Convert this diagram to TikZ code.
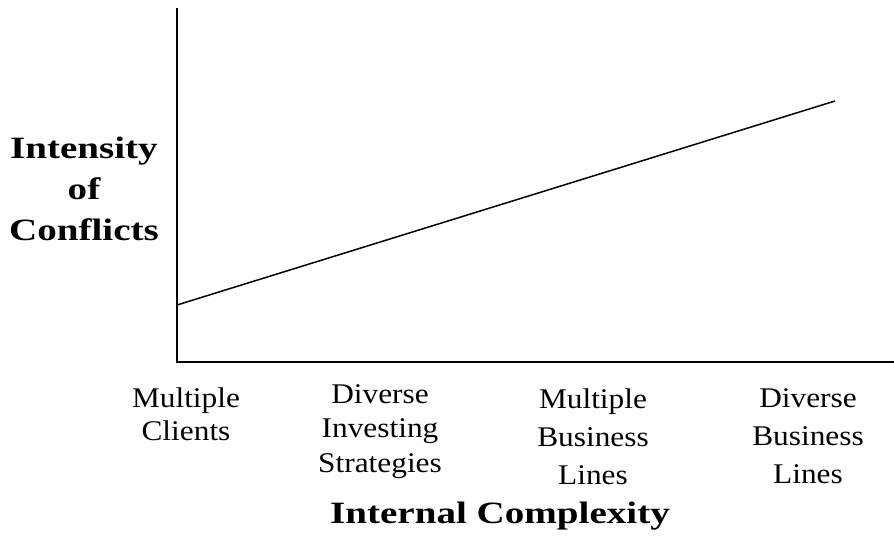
\documentclass[tikz,border=0pt]{standalone}
\usepackage{fontspec}
\setmainfont{Liberation Serif}
\newfontfamily\headfont[FakeStretch=1.26]{Liberation Serif}
\newfontfamily\tickfont[FakeStretch=1.1]{Liberation Serif}
\usetikzlibrary{positioning}

\begin{document}
\begin{tikzpicture}[x=1pt, y=-1pt,
    axistitle/.style={font=\headfont\bfseries\fontsize{31}{41}\selectfont, align=center, inner sep=0pt},
    ticklabel/.style={font=\tickfont\fontsize{28.5}{#1}\selectfont, align=center, inner sep=0pt, anchor=north},
    axisline/.style={line width=1.6pt},
    trendline/.style={line width=1.5pt}]
\useasboundingbox (0,0) rectangle (894,537);

% Axes
\coordinate (origin) at (177,362);
\coordinate (ytop) at (177,8);
\coordinate (xend) at (894,362);
\draw[axisline] (ytop) -- (origin) -- (xend);

% Trend
\coordinate (lowend) at (177,305);
\coordinate (highend) at (835,101);
\draw[trendline] (lowend) -- (highend);

% Axis titles
\node[axistitle, anchor=north] (ytitle) at (84,136.5) {Intensity\\of\\Conflicts};
\node[axistitle, anchor=base] (xtitle) at (500,523) {Internal Complexity};

% Complexity levels
\node[ticklabel=33] (clients) at (186,387.5) {Multiple\\Clients};
\node[ticklabel=34.5] (strategies) at (380,384) {Diverse\\Investing\\Strategies};
\node[ticklabel=38] (multilines) at (593,388.5) {Multiple\\Business\\Lines};
\node[ticklabel=38] (divlines) at (808,388.5) {Diverse\\Business\\Lines};

\end{tikzpicture}
\end{document}
